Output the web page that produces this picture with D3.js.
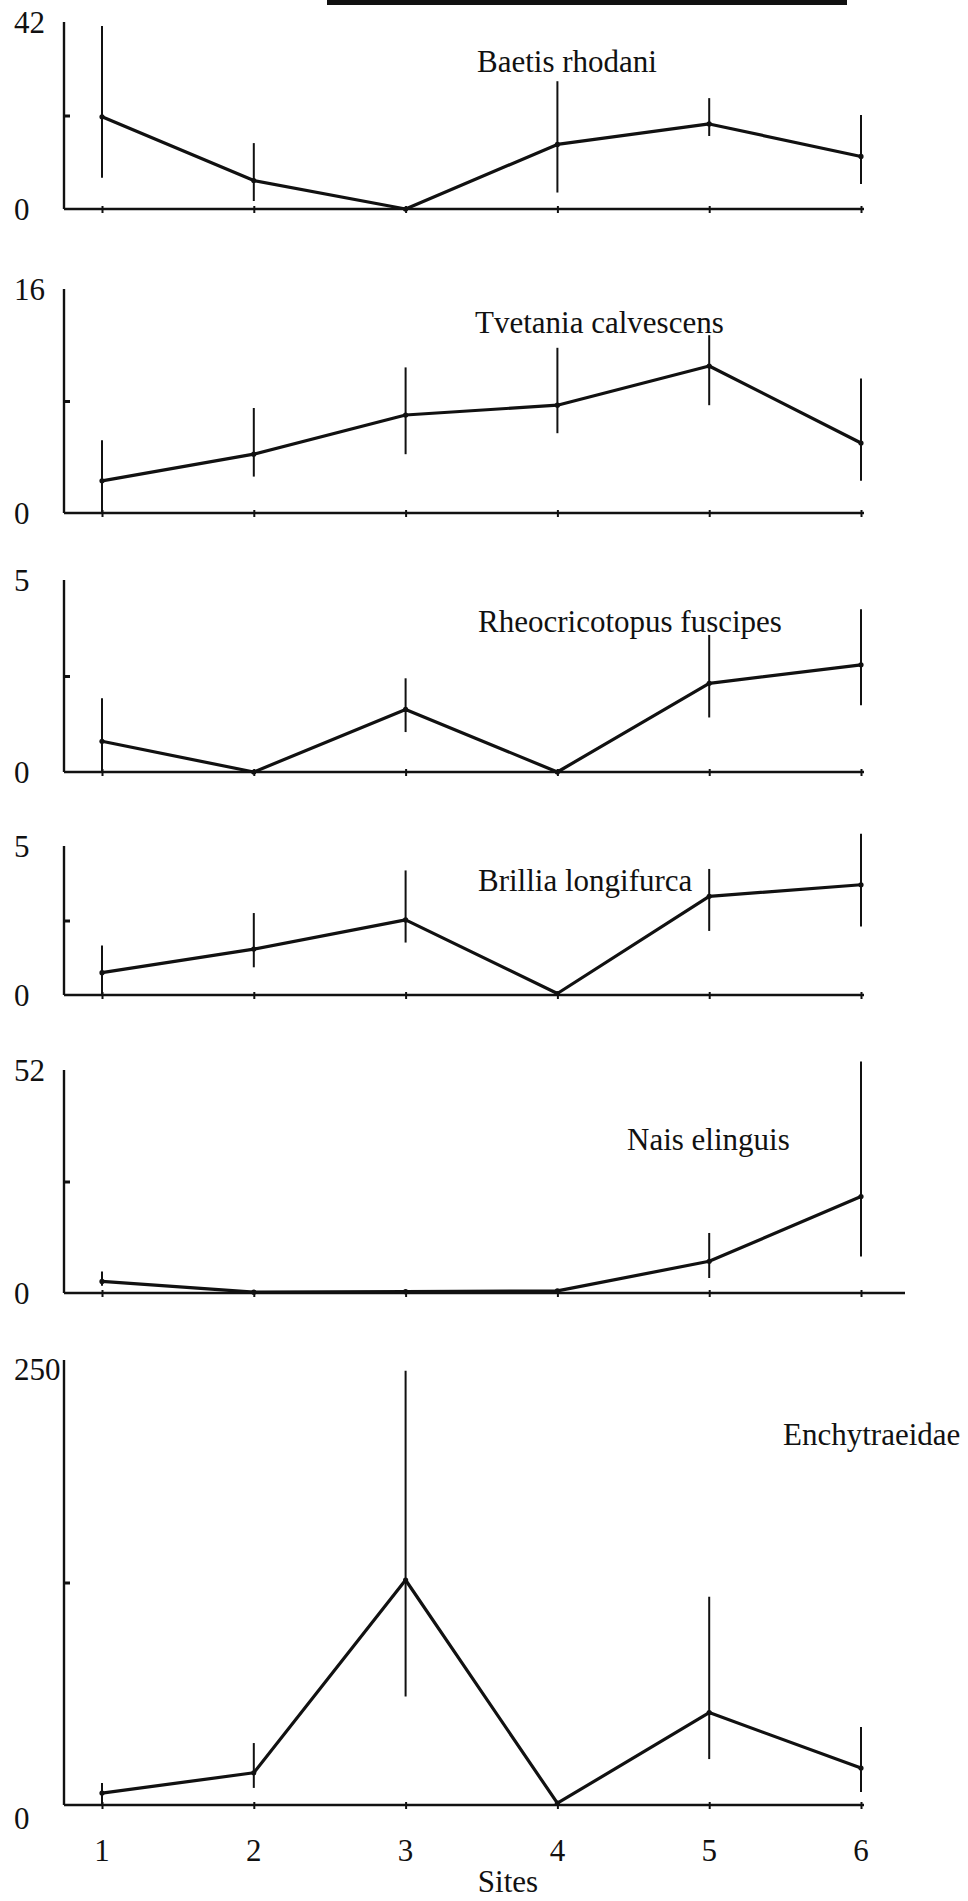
<!DOCTYPE html>
<html>
<head>
<meta charset="utf-8">
<script src="https://cdn.jsdelivr.net/npm/d3@7"></script>
<style>
  html, body { margin: 0; padding: 0; background: #fff; }
  svg { display: block; }
  text { font-family: "Liberation Serif", "Times New Roman", serif; fill: #111; }
</style>
</head>
<body>
<svg id="fig" width="968" height="1901"></svg>
<script>
// Sampling sites along the stream
const sites = [1, 2, 3, 4, 5, 6];
const siteLabels = ["1", "2", "3", "4", "5", "6"];

// Taxa, one panel each, top to bottom
const taxa = ["Baetis rhodani", "Tvetania calvescens", "Rheocricotopus fuscipes",
              "Brillia longifurca", "Nais elinguis", "Enchytraeidae"];
// Upper limit of each y axis
const axisMax = [42, 16, 5, 5, 52, 250];

// Mean abundance per site with lower / upper error limits (null = no bar)
const baetisMean = [20.7, 6.4, 0, 14.5, 19.1, 11.8];
const baetisLow  = [7.0, 1.8, null, 3.7, 16.4, 5.6];
const baetisHigh = [41.1, 14.8, null, 28.7, 24.9, 21.1];

const tvetaniaMean = [2.3, 4.2, 7.0, 7.7, 10.5, 5.0];
const tvetaniaLow  = [0, 2.6, 4.2, 5.7, 7.7, 2.3];
const tvetaniaHigh = [5.2, 7.5, 10.4, 11.8, 12.7, 9.6];

const rheoMean = [0.80, 0, 1.63, 0, 2.31, 2.79];
const rheoLow  = [0, null, 1.04, null, 1.42, 1.74];
const rheoHigh = [1.92, null, 2.44, null, 3.57, 4.24];

const brilliaMean = [0.75, 1.54, 2.52, 0.05, 3.31, 3.70];
const brilliaLow  = [0, 0.93, 1.76, null, 2.15, 2.30];
const brilliaHigh = [1.66, 2.75, 4.18, null, 4.23, 5.41];

const naisMean = [2.7, 0.2, 0.3, 0.5, 7.4, 22.5];
const naisLow  = [1.7, null, null, null, 3.5, 8.5];
const naisHigh = [5.0, null, null, null, 14.0, 54];

const enchyMean = [6.7, 18.1, 126.4, 1, 51.9, 20.8];
const enchyLow  = [0, 9.6, 61, null, 25.8, 7.3];
const enchyHigh = [12.4, 34.8, 244, null, 117, 43.8];

const means = [baetisMean, tvetaniaMean, rheoMean, brilliaMean, naisMean, enchyMean];
const lows  = [baetisLow, tvetaniaLow, rheoLow, brilliaLow, naisLow, enchyLow];
const highs = [baetisHigh, tvetaniaHigh, rheoHigh, brilliaHigh, naisHigh, enchyHigh];

// Page layout (pixels)
const axisX = 64;
const panelTop  = [22, 289, 580, 846, 1070, 1360];
const panelBase = [209, 513, 772, 995, 1293, 1805];
const axisRight = [864, 864, 864, 864, 905, 864];
const nameAt = [[477, 72], [475, 333], [478, 632], [478, 891], [627, 1150], [783, 1445]];
const topLabelDy  = [11, 11, 11, 11, 11, 20];
const zeroLabelDy = [11, 11, 11, 11, 11, 24];

const svg = d3.select("#fig");
const x = d3.scaleLinear().domain([1, 6]).range([102, 861]);

// Rule left over from the item above on the page
svg.append("rect").attr("x", 327).attr("y", 0).attr("width", 520).attr("height", 5).attr("fill", "#111");

taxa.forEach((name, i) => {
  const y = d3.scaleLinear().domain([0, axisMax[i]]).range([panelBase[i], panelTop[i]]);
  const g = svg.append("g");

  // y axis: plain line with a single inward tick at half range
  const yAx = g.append("g").attr("transform", `translate(${axisX},0)`)
    .call(d3.axisLeft(y).tickValues([axisMax[i] / 2]).tickSize(-6).tickFormat(""));
  yAx.select(".domain").attr("d", `M0,${y(axisMax[i])}V${y(0)}`).attr("stroke", "#111").attr("stroke-width", 2.4);
  yAx.selectAll(".tick line").attr("stroke", "#111").attr("stroke-width", 3);

  // x axis: baseline with small site ticks
  const xAx = g.append("g").attr("transform", `translate(0,${y(0)})`)
    .call(d3.axisBottom(x).tickValues(sites).tickSize(4).tickFormat(""));
  xAx.select(".domain").attr("d", `M${axisX},0H${axisRight[i]}`).attr("stroke", "#111").attr("stroke-width", 2.6);
  xAx.selectAll(".tick line").attr("stroke", "#111").attr("stroke-width", 2).attr("y1", -3);

  // axis end labels
  g.append("text").attr("x", 14).attr("y", y(axisMax[i]) + topLabelDy[i]).attr("font-size", 31).text(String(axisMax[i]));
  g.append("text").attr("x", 14).attr("y", y(0) + zeroLabelDy[i]).attr("font-size", 31).text("0");

  // error bars
  sites.forEach((s, k) => {
    if (lows[i][k] === null) return;
    g.append("line")
      .attr("x1", x(s)).attr("x2", x(s))
      .attr("y1", y(lows[i][k])).attr("y2", y(highs[i][k]))
      .attr("stroke", "#111").attr("stroke-width", 2);
  });

  // mean line
  const line = d3.line().x((d, k) => x(sites[k])).y(d => y(d));
  g.append("path").datum(means[i]).attr("d", line)
    .attr("fill", "none").attr("stroke", "#111").attr("stroke-width", 3.2).attr("stroke-linejoin", "round");
  g.selectAll("circle.pt").data(means[i]).join("circle")
    .attr("cx", (d, k) => x(sites[k])).attr("cy", d => y(d)).attr("r", 2.6).attr("fill", "#111");

  // taxon name
  g.append("text").attr("x", nameAt[i][0]).attr("y", nameAt[i][1]).attr("font-size", 31).text(name);

  if (i === taxa.length - 1) {
    g.selectAll("text.site").data(sites).join("text")
      .attr("x", d => x(d)).attr("y", 1861).attr("text-anchor", "middle").attr("font-size", 31)
      .text((d, k) => siteLabels[k]);
    g.append("text").attr("x", 508).attr("y", 1892).attr("text-anchor", "middle").attr("font-size", 31).text("Sites");
  }
});
</script>
</body>
</html>
